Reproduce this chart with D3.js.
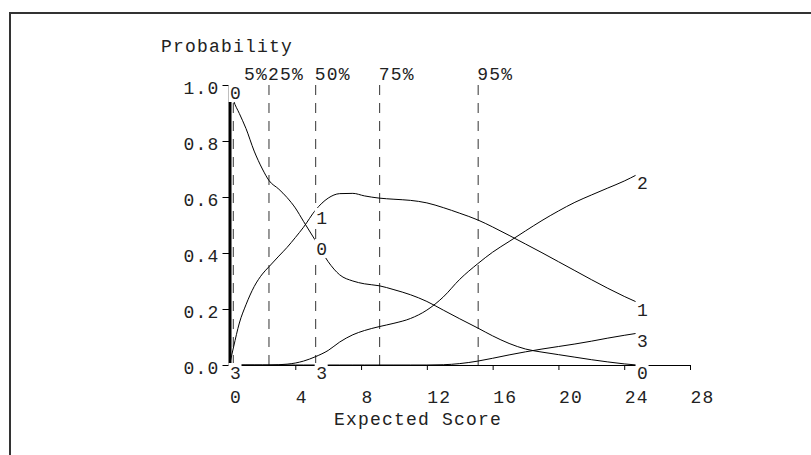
<!DOCTYPE html>
<html>
<head>
<meta charset="utf-8">
<script src="https://cdn.jsdelivr.net/npm/d3@7"></script>
<style>
  body { margin: 0; background: #fff; }
  svg text {
    font-family: "Liberation Mono", "Courier New", monospace;
    font-size: 18px;
    letter-spacing: 1.2px;
    fill: #222;
  }
</style>
</head>
<body>
<script>
// Expected score grid and category probability curves
var scores = [0, 0.25, 0.6, 1.0, 1.5, 2.0, 2.4, 3.0, 3.5, 4.0, 4.5, 5.24, 6.0, 6.7, 7.5, 8.2, 9.1,
              10, 11, 12, 13, 14, 15.1, 16, 17, 18, 19, 20, 21, 22, 23, 24, 24.75];
var prob0 = [1.0, 0.944, 0.898, 0.845, 0.764, 0.700, 0.659, 0.628, 0.598, 0.561, 0.513, 0.443, 0.369,
             0.322, 0.300, 0.290, 0.283, 0.269, 0.251, 0.227, 0.196, 0.165, 0.132, 0.104, 0.077,
             0.057, 0.046, 0.037, 0.028, 0.019, 0.011, 0.004, 0.0];
var prob1 = [0, 0.065, 0.150, 0.215, 0.280, 0.325, 0.351, 0.389, 0.420, 0.455, 0.492, 0.554, 0.596,
             0.612, 0.613, 0.604, 0.596, 0.592, 0.588, 0.579, 0.562, 0.542, 0.518, 0.493, 0.463,
             0.432, 0.401, 0.369, 0.337, 0.305, 0.274, 0.245, 0.225];
var prob2 = [0, 0, 0, 0, 0, 0, 0, 0.001, 0.003, 0.007, 0.014, 0.030, 0.052, 0.082, 0.108, 0.123,
             0.137, 0.149, 0.166, 0.196, 0.243, 0.306, 0.362, 0.403, 0.441, 0.479, 0.516, 0.550,
             0.581, 0.607, 0.632, 0.657, 0.679];
var prob3 = [0, 0, 0, 0, 0, 0, 0, 0, 0, 0, 0, 0, 0, 0, 0, 0, 0, 0, 0, 0, 0.001, 0.005, 0.014,
             0.024, 0.036, 0.047, 0.057, 0.066, 0.075, 0.085, 0.096, 0.106, 0.113];
var categories = ["0", "1", "2", "3"];

// Expected score quantiles
var quantiles = [0.23, 2.4, 5.24, 9.13, 15.12];
var quantileLabels = ["5%", "25%", "50%", "75%", "95%"];

// Where the category numbers are written
var labelScores = [0, 5.24, 24.75];

var xTicks = [0, 4, 8, 12, 16, 20, 24, 28];
var yTicks = [0, 0.2, 0.4, 0.6, 0.8, 1.0];

var width = 811, height = 455, charW = 12;

var svg = d3.select("body")
  .append("svg")
    .attr("width", width)
    .attr("height", height);

// frame (top and left edges only)
svg.append("path")
  .attr("d", "M10,455V13H811")
  .attr("fill", "none")
  .attr("stroke", "#333")
  .attr("stroke-width", 2);

var x = d3.scaleLinear().domain([0, 28]).range([229.5, 690]);
var y = d3.scaleLinear().domain([0, 1]).range([365, 85]);

// x axis
var xAxis = svg.append("g")
  .attr("transform", "translate(0,365)")
  .call(d3.axisBottom(x).tickValues(xTicks).tickSize(5).tickSizeOuter(0));
xAxis.select(".domain").attr("stroke", "#000");
xAxis.selectAll("line").attr("stroke", "#000");
xAxis.selectAll("text")
  .attr("text-anchor", "start")
  .attr("x", 0)
  .attr("dy", null)
  .attr("y", 38)
  .attr("fill", null)
  .attr("font-size", null)
  .attr("font-family", null);

// y axis
var yAxis = svg.append("g")
  .attr("transform", "translate(229.5,0)")
  .call(d3.axisLeft(y).tickValues(yTicks).tickFormat(d3.format(".1f"))
          .tickSize(7).tickSizeOuter(0).tickPadding(3));
yAxis.select(".domain").attr("stroke", "#000").attr("stroke-width", 3);
yAxis.selectAll("line").attr("stroke", "#000");
yAxis.selectAll("text")
  .attr("dy", null)
  .attr("y", 8)
  .attr("fill", null)
  .attr("font-size", null)
  .attr("font-family", null);

// quantile lines
svg.selectAll(".qline")
  .data(quantiles)
  .enter()
  .append("line")
    .attr("class", "qline")
    .attr("x1", function(d) { return x(d); })
    .attr("x2", function(d) { return x(d); })
    .attr("y1", y(1))
    .attr("y2", y(0))
    .attr("stroke", "#333")
    .attr("stroke-dasharray", "10,8");

// quantile labels; the first one is pushed to end where the next one starts
svg.selectAll(".qlabel")
  .data(quantileLabels)
  .enter()
  .append("text")
    .attr("class", "qlabel")
    .attr("x", function(d, i) {
      if (i == 0) return x(quantiles[1]) - 1 - d.length * charW;
      return x(quantiles[i]) - 1;
    })
    .attr("y", 80)
    .text(function(d) { return d; });

// curves
var series = [prob0, prob1, prob2, prob3];
var line = d3.line()
  .x(function(d, i) { return x(scores[i]); })
  .y(function(d) { return y(d); })
  .curve(d3.curveMonotoneX);

svg.selectAll(".curve")
  .data(series)
  .enter()
  .append("path")
    .attr("class", "curve")
    .attr("d", line)
    .attr("fill", "none")
    .attr("stroke", "#000")
    .attr("stroke-width", 1);

// category numbers on white boxes; later categories win where they collide
var labels = [];
labelScores.forEach(function(s) {
  var idx = scores.indexOf(s);
  var placed = [];
  for (var c = categories.length - 1; c >= 0; c--) {
    var px = x(s), py = y(series[c][idx]);
    var clash = placed.some(function(p) { return Math.abs(p - py) < 19; });
    if (clash) continue;
    placed.push(py);
    labels.push({ name: categories[c], px: px, py: py });
  }
});

var lab = svg.selectAll(".clabel")
  .data(labels)
  .enter()
  .append("g")
    .attr("class", "clabel")
    .attr("transform", function(d) { return "translate(" + d.px + "," + d.py + ")"; });
lab.append("rect")
  .attr("x", -1)
  .attr("y", -2)
  .attr("width", 13)
  .attr("height", 19)
  .attr("fill", "#fff");
lab.append("text")
  .attr("x", 0.5)
  .attr("y", 14)
  .text(function(d) { return d.name; });

// titles
svg.append("text")
  .attr("x", 161)
  .attr("y", 52)
  .text("Probability");

svg.append("text")
  .attr("x", 334)
  .attr("y", 425)
  .text("Expected Score");
</script>
</body>
</html>
